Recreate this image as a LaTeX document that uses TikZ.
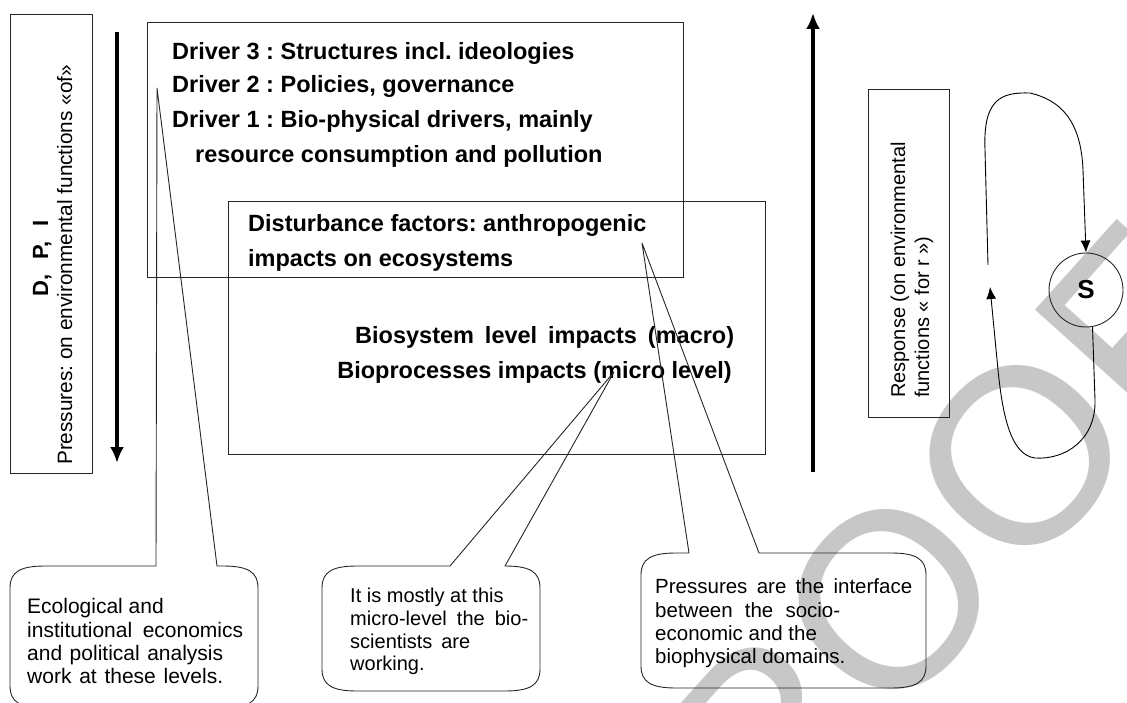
\documentclass[tikz,border=0pt]{standalone}
\usepackage{fontspec}
\setmainfont{Liberation Sans}
\usetikzlibrary{arrows.meta}
\frenchspacing
\begin{document}
\begin{tikzpicture}[x=1pt,y=-1pt,
  frame/.style={draw=black!85, line width=0.9pt, inner sep=0pt, anchor=north west},
  boldtxt/.style={font=\fontsize{23.5}{28}\selectfont\bfseries, anchor=base west, inner sep=0pt},
  notetxt/.style={font=\fontsize{20.5}{24}\selectfont, anchor=base west, inner sep=0pt},
  smalltxt/.style={font=\fontsize{20}{24}\selectfont, anchor=base west, inner sep=0pt},
  sidetxt/.style={font=\fontsize{20.8}{24}\selectfont, anchor=base west, inner sep=0pt, rotate=90},
  callout/.style={draw=black!85, line width=0.9pt, line join=round},
  bigarrow/.style={line width=4.5pt, -{Latex[length=16pt,width=14pt]}},
  looparrow/.style={line width=0.9pt, -{Latex[length=12pt,width=10pt]}},
  wmk/.style={text=black!22, font=\fontsize{250}{250}\selectfont, inner sep=0pt}
]
\useasboundingbox (0,0) rectangle (1127,703);

% watermark behind everything
\node[wmk, rotate=48] (proof) at (890,600) {PROOF};

% left column: D, P, I
\node[frame, minimum width=82, minimum height=459] (leftbox) at (10,14) {};
\node[sidetxt, font=\fontsize{22}{24}\selectfont\bfseries] (dpi) at (48,297) {D,\hspace{9pt} P,\hspace{9pt} I};
\node[sidetxt] (press) at (72,465) {Pressures: on environmental functions «of»};
\coordinate (dtop) at (117,32);
\coordinate (dbot) at (117,463);
\draw[bigarrow] (dtop) -- (dbot);

% drivers
\node[frame, minimum width=536, minimum height=255] (drvbox) at (147,22) {};
\node[boldtxt] (d3) at (172,60) {Driver 3 : Structures incl. ideologies};
\node[boldtxt] (d2) at (172,93) {Driver 2 : Policies, governance};
\node[boldtxt] (d1) at (172,128) {Driver 1 : Bio-physical drivers, mainly};
\node[boldtxt] (d1b) at (195,163) {resource consumption and pollution};

% disturbance factors and impacts
\node[frame, minimum width=537, minimum height=253] (distbox) at (228,201) {};
\node[boldtxt] (dist1) at (248,232) {Disturbance factors: anthropogenic};
\node[boldtxt] (dist2) at (248,267) {impacts on ecosystems};
\node[boldtxt] (macro) at (355,343) {\makebox[379pt][s]{Biosystem level impacts (macro)}};
\node[boldtxt, anchor=base east] (micro) at (732,378) {Bioprocesses impacts (micro level)};

% response column
\coordinate (ubot) at (813,472);
\coordinate (utop) at (813,13);
\draw[bigarrow] (ubot) -- (utop);
\node[frame, minimum width=81, minimum height=328] (respbox) at (868,89) {};
\node[sidetxt, font=\fontsize{20}{24}\selectfont] (resp1) at (905,398) {Response (on environmental};
\node[sidetxt, font=\fontsize{20}{24}\selectfont] (resp2) at (929,398) {functions « for r »)};

% state loop
\node[draw=black!85, line width=0.9pt, circle, minimum size=74, inner sep=0pt,
      font=\fontsize{26}{26}\selectfont\bfseries] (S) at (1086,290) {S};
\coordinate (loopstart) at (988,265);
\draw[looparrow] (loopstart) -- (985,150) .. controls (983,100) and (1000,92) .. (1030,93)
  .. controls (1060,100) and (1081,120) .. (1083,170) -- (S.north);
\coordinate (looptip) at (990,287);
\draw[looparrow] (S.-80) -- (1095,400) .. controls (1096,440) and (1065,460) .. (1035,458)
  .. controls (1012,455) and (1003,420) .. (998,370) -- (looptip);

% callout: economics
\coordinate (ltip) at (157,88);
\draw[callout] (10,588) .. controls (10,572) and (20,566) .. (45,566) -- (156,566) -- (ltip)
  -- (217,566) -- (223,566) .. controls (248,566) and (258,572) .. (258,588) -- (258,686)
  .. controls (258,702) and (248,708) .. (223,708) -- (45,708) .. controls (20,708) and (10,702) .. (10,686) -- cycle;
\node[notetxt, font=\fontsize{21}{24}\selectfont] (e1) at (27,613) {Ecological and};
\node[notetxt, font=\fontsize{21}{24}\selectfont] (e2) at (27,637) {\makebox[216pt][s]{institutional economics}};
\node[notetxt, font=\fontsize{21}{24}\selectfont] (e3) at (27,660) {\makebox[196pt][s]{and political analysis}};
\node[notetxt, font=\fontsize{21}{24}\selectfont] (e4) at (27,683) {\makebox[196pt][s]{work at these levels.}};

% callout: bio-scientists
\coordinate (mtip) at (614,372);
\draw[callout] (322,588) .. controls (322,572) and (332,566) .. (357,566) -- (450,566) -- (mtip)
  -- (505,566) .. controls (530,566) and (540,572) .. (540,588) -- (540,669)
  .. controls (540,685) and (530,691) .. (505,691) -- (357,691) .. controls (332,691) and (322,685) .. (322,669) -- cycle;
\node[smalltxt] (m1) at (350,602) {It is mostly at this};
\node[smalltxt] (m2) at (350,625) {\makebox[178pt][s]{micro-level the bio-}};
\node[smalltxt] (m3) at (350,648) {\makebox[120pt][s]{scientists are}};
\node[smalltxt] (m4) at (350,670) {working.};

% callout: pressures
\coordinate (rtip) at (642,243);
\draw[callout] (641,575) .. controls (641,559) and (651,553) .. (676,553) -- (689,553) -- (rtip)
  -- (759,553) -- (891,553) .. controls (916,553) and (926,559) .. (926,575) -- (926,666)
  .. controls (926,682) and (916,688) .. (891,688) -- (676,688) .. controls (651,688) and (641,682) .. (641,666) -- cycle;
\node[notetxt] (p1) at (655,593) {\makebox[257pt][s]{Pressures are the interface}};
\node[notetxt] (p2) at (655,617) {\makebox[185pt][s]{between the socio-}};
\node[notetxt] (p3) at (655,640) {economic and the};
\node[notetxt] (p4) at (655,663) {biophysical domains.};
\end{tikzpicture}
\end{document}
